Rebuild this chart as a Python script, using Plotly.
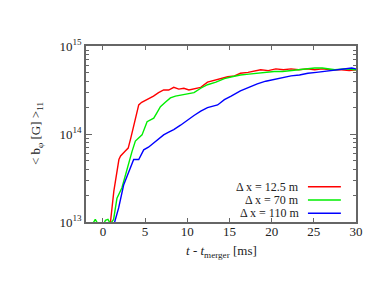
import numpy as np
import plotly.graph_objects as go

# values (time in ms, log10 of <b_phi> in G)
t_red = [-2, 0.5, 0.9, 1.3, 1.9, 2.1, 2.6, 3.0, 3.3, 3.65, 4.0, 4.25, 4.6, 5.0, 5.5, 6.0, 6.6, 7.2, 7.8, 8.4,
         9.0, 9.6, 10.2, 10.8, 11.6, 12.4, 13.2, 14.0, 14.8, 15.6, 16.3, 17.2, 18.0, 18.7, 19.6, 20.5, 21.4,
         22.3, 23.2, 24.2, 25.1, 26.0, 27.0, 28.3, 29.2, 30]
lg_red = [12.9, 12.9, 13.0, 13.35, 13.71, 13.75, 13.8, 13.84, 13.95, 14.1, 14.22, 14.33, 14.36, 14.38, 14.41,
          14.43, 14.47, 14.5, 14.5, 14.53, 14.51, 14.52, 14.5, 14.51, 14.53, 14.59, 14.61, 14.63, 14.65, 14.66,
          14.69, 14.70, 14.72, 14.73, 14.72, 14.74, 14.73, 14.74, 14.73, 14.74, 14.73, 14.74, 14.73, 14.73,
          14.72, 14.73]

t_green = [-2, -1.2, -0.9, -0.6, 0, 0.3, 0.6, 0.9, 1.27, 1.67, 2.26, 2.86, 3.45, 3.85, 4.25, 4.64, 5.24, 6.03,
           6.4, 6.82, 7.4, 8.0, 8.6, 9.2, 10.0, 10.8, 11.6, 12.4, 13.4, 14.4, 15.3, 16.3, 17.3, 18.3, 19.3, 20.3,
           21.3, 22.3, 23.2, 24.2, 25.1, 26.0, 27.5, 28.5, 30]
lg_green = [12.95, 12.98, 13.03, 12.98, 12.95, 13.02, 13.03, 12.98, 13.03, 13.27, 13.39, 13.61, 13.8, 13.92,
            13.96, 13.99, 14.14, 14.18, 14.24, 14.31, 14.36, 14.41, 14.43, 14.44, 14.45, 14.47, 14.52, 14.56,
            14.59, 14.63, 14.65, 14.67, 14.68, 14.69, 14.70, 14.71, 14.71, 14.72, 14.73, 14.74, 14.75, 14.75,
            14.73, 14.74, 14.73]

t_blue = [-2, 1.3, 1.4, 1.87, 2.46, 3.25, 3.65, 4.25, 4.84, 5.4, 6.03, 6.6, 7.2, 7.8, 8.4, 9.2, 10.0, 10.8,
          11.6, 12.4, 13.6, 14.4, 15.2, 16.3, 17.3, 18.3, 19.3, 20.3, 21.3, 22.3, 23.3, 24.3, 25.3, 26.3, 27.3,
          28.3, 29.5, 30]
lg_blue = [12.9, 12.9, 13.0, 13.16, 13.42, 13.61, 13.71, 13.71, 13.82, 13.85, 13.9, 13.95, 13.99, 14.02, 14.05,
           14.1, 14.16, 14.21, 14.26, 14.3, 14.33, 14.39, 14.43, 14.49, 14.53, 14.57, 14.6, 14.62, 14.64, 14.66,
           14.67, 14.69, 14.70, 14.71, 14.72, 14.73, 14.75, 14.74]

names = ["Δ x = 12.5 m", "Δ x = 70 m", "Δ x = 110 m"]
colors = ["#ff0000", "#00ee00", "#0000ff"]
x_ticks = [0, 5, 10, 15, 20, 25, 30]
y_tickvals = [1e13, 1e14, 1e15]
y_ticktext = ["10<sup>13</sup>", "10<sup>14</sup>", "10<sup>15</sup>"]

FONT = "Times New Roman, Liberation Serif, DejaVu Serif, serif"
series = [(t_red, lg_red), (t_green, lg_green), (t_blue, lg_blue)]

fig = go.Figure()
for (t, lg), name, c in zip(series, names, colors):
    fig.add_trace(go.Scatter(x=t, y=np.power(10.0, lg), mode="lines", name=name,
                             line=dict(color=c, width=1.4), showlegend=False))

axis_common = dict(showline=True, linecolor="#666666", linewidth=1.5, mirror="ticks",
                   ticks="inside", tickcolor="#666666", showgrid=False, zeroline=False,
                   tickfont=dict(family=FONT, size=13, color="#222222"))
fig.update_xaxes(range=[-2, 30], tickvals=x_ticks, ticklen=4, ticklabelstandoff=-3, **axis_common)
fig.update_yaxes(type="log", range=[13, 15], tickvals=y_tickvals, ticktext=y_ticktext, ticklen=6,
                 minor=dict(ticks="inside", ticklen=3, tickcolor="#666666", dtick="D1"),
                 **axis_common)

# legend drawn gnuplot style: text right aligned, sample line to its right
leg_y = [0.2, 0.125, 0.05]
for name, c, yy in zip(names, colors, leg_y):
    fig.add_annotation(x=0.795, y=yy, xref="paper", yref="paper", text=name, showarrow=False,
                       xanchor="right", yanchor="middle", font=dict(family=FONT, size=12, color="#222222"))
    fig.add_shape(type="line", xref="paper", yref="paper", x0=0.822, x1=0.944, y0=yy, y1=yy,
                  line=dict(color=c, width=1.6))

fig.add_annotation(x=0.5, y=-0.17, xref="paper", yref="paper",
                   text="<i>t</i> - <i>t</i><sub>merger</sub> [ms]", showarrow=False,
                   xanchor="center", yanchor="middle", font=dict(family=FONT, size=13, color="#222222"))
fig.add_annotation(x=-0.185, y=0.5, xref="paper", yref="paper",
                   text="< b<sub>φ</sub> [G] ><sub>11</sub>", showarrow=False, textangle=-90,
                   xanchor="center", yanchor="middle", font=dict(family=FONT, size=13, color="#222222"))

fig.update_layout(width=382, height=295, margin=dict(l=78, r=34, t=38, b=81),
                  paper_bgcolor="white", plot_bgcolor="white", showlegend=False)
fig.write_html("out.html")
